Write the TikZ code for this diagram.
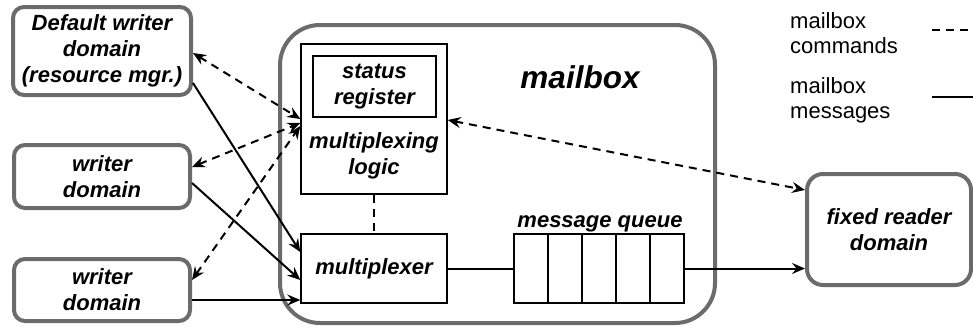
\documentclass[tikz,border=0pt]{standalone}
\usepackage{fontspec}
\setmainfont{Liberation Sans}
\usetikzlibrary{arrows.meta,calc}

\definecolor{frame}{HTML}{6B6B6B}

\tikzset{
  domainbox/.style={draw=frame, line width=4pt, rounded corners=11pt, align=center,
    font=\fontsize{22}{26}\selectfont\bfseries\itshape, inner sep=0pt},
  block/.style={draw=black, line width=1.4pt, inner sep=0pt, align=center,
    font=\fontsize{22}{26}\selectfont\bfseries\itshape},
  cell/.style={draw=black, line width=1.4pt, minimum width=34pt, minimum height=69pt,
    inner sep=0pt, outer sep=0pt},
  lbl/.style={align=center, inner sep=0pt, font=\fontsize{22}{26}\selectfont\bfseries\itshape},
  legendtext/.style={align=left, inner sep=0pt, anchor=west, font=\fontsize{22}{25}\selectfont},
  cmd/.style={line width=2pt, dash pattern=on 8pt off 6pt},
  cmdboth/.style={cmd, {Stealth[length=13pt, width=11pt, inset=4.5pt]}-{Stealth[length=13pt, width=11pt, inset=4.5pt]}},
  msg/.style={line width=2pt, -{Stealth[length=13pt, width=11pt, inset=4.5pt]}},
}

\begin{document}
\begin{tikzpicture}[x=1pt, y=-1pt]
  \useasboundingbox (0,0) rectangle (973,327);

  % mailbox frame and title
  \node[draw=frame, line width=4pt, rounded corners=40pt, minimum width=435pt,
        minimum height=298pt, inner sep=0pt] (mbox) at (497.5,174) {};
  \node[lbl, font=\fontsize{31.5}{34}\selectfont\bfseries\itshape] (mtitle) at (580,77) {mailbox};

  % writer domains
  \node[domainbox, minimum width=178pt, minimum height=88pt] (dw) at (102,51)
    {Default writer\\domain\\(resource mgr.)};
  \node[domainbox, minimum width=176pt, minimum height=63pt] (w2) at (102,176.5)
    {writer\\domain};
  \node[domainbox, minimum width=176pt, minimum height=62pt] (w3) at (102,290)
    {writer\\domain};

  % reader domain
  \node[domainbox, rounded corners=16pt, minimum width=164pt, minimum height=111pt] (fr)
    at (889,229.5) {fixed reader\\domain};

  % multiplexing logic with status register
  \node[block, minimum width=146pt, minimum height=150pt] (stat) at (374,119) {};
  \node[block, minimum width=123pt, minimum height=61pt] (sreg) at (374.5,86.5)
    {status\\register};
  \node[lbl] (mlogic) at (374,156) {multiplexing\\logic};

  % multiplexer
  \node[block, minimum width=146pt, minimum height=69pt] (mux) at (374,268.5) {multiplexer};

  % message queue cells
  \node[cell] (q1) at (531,268.5) {};
  \node[cell, anchor=west] (q2) at (q1.east) {};
  \node[cell, anchor=west] (q3) at (q2.east) {};
  \node[cell, anchor=west] (q4) at (q3.east) {};
  \node[cell, anchor=west] (q5) at (q4.east) {};
  \node[lbl, anchor=base] (qlabel) at (600,227) {message queue};

  % commands (dashed, both ways)
  \draw[cmdboth] ([yshift=-2pt]dw.east) -- ([yshift=0pt]stat.west);
  \draw[cmdboth] ([yshift=9.5pt]w2.east) -- ([yshift=-4pt]stat.west);
  \draw[cmdboth] ([yshift=10pt]w3.east) -- ([yshift=-7pt]stat.west);
  \draw[cmdboth] ([yshift=-1pt]stat.east) -- ([yshift=39.5pt]fr.west);
  \draw[cmd] (stat.south) -- (mux.north);

  % messages (solid)
  \draw[msg] ([yshift=-32pt]dw.east) -- ([yshift=16.5pt]mux.west);
  \draw[msg] ([yshift=-6.5pt]w2.east) -- ([yshift=-11.5pt]mux.west);
  \draw[msg] ([yshift=-10pt]w3.east) -- ([yshift=-31.5pt]mux.west);
  \draw[line width=2pt] (mux.east) -- (q1.west);
  \draw[msg] (q5.east) -- (q5.east -| fr.west);

  % legend
  \node[legendtext] (lcmd) at (790,33) {mailbox\\commands};
  \node[legendtext] (lmsg) at (790,100) {mailbox\\messages};
  \coordinate (lc1) at (932,30);
  \coordinate (lc2) at (973,30);
  \coordinate (lm1) at (932,97);
  \coordinate (lm2) at (973,97);
  \draw[cmd] (lc1) -- (lc2);
  \draw[line width=2pt] (lm1) -- (lm2);
\end{tikzpicture}
\end{document}
